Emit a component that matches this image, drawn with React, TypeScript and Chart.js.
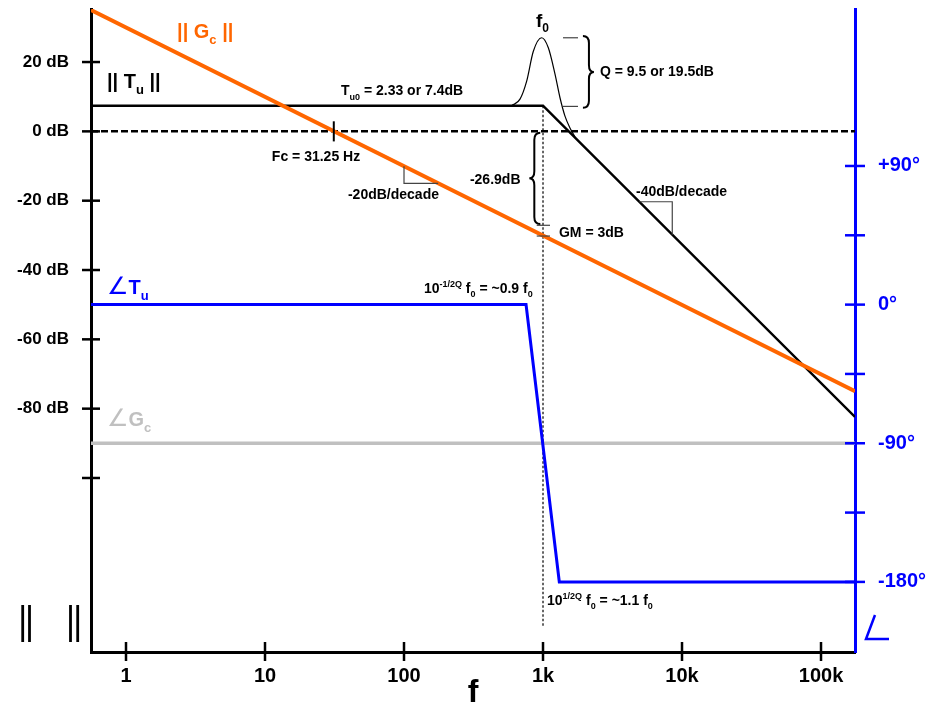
import React, { useEffect, useRef } from 'react';
import { Chart, registerables } from 'chart.js';

Chart.register(...registerables);

const FONT = '"Liberation Sans", Arial, "DejaVu Sans", sans-serif';
const ANGLE_FONT = '"DejaVu Sans", sans-serif';

// Axis ranges
const F_MIN = 0.56;
const F_MAX = 175600;
const DB_MIN = -150.2;
const DB_MAX = 35.3;
const PH_MIN = -225.5;
const PH_MAX = 191.9;

// Ticks
const freqTicks = [1, 10, 100, 1000, 10000, 100000];
const freqTickLabels = ['1', '10', '100', '1k', '10k', '100k'];
const dbTicks = [20, 0, -20, -40, -60, -80, -100];
const dbTickLabels = ['20 dB', '0 dB', '-20 dB', '-40 dB', '-60 dB', '-80 dB', ''];
const phaseTicks = [90, 45, 0, -45, -90, -135, -180];
const phaseTickLabels = ['+90°', '', '0°', '', '-90°', '', '-180°'];

// Series
const tuMagF = [0.56, 1000, 175600];
const tuMagDb = [7.4, 7.4, -82.4];
const tuPeakF = [595, 683, 763, 852, 979, 1092, 1220, 1325, 1439, 1563, 1700];
const tuPeakDb = [7.4, 9.3, 14.5, 23.1, 27.0, 24.1, 16.5, 9.7, 4.4, 1.0, -1.6];
const gcMagF = [0.56, 175600];
const gcMagDb = [35.0, -75.0];
const tuPhaseF = [0.56, 755, 1310, 175600];
const tuPhaseDeg = [0, 0, -180, -180];
const gcPhaseF = [0.56, 175600];
const gcPhaseDeg = [-90, -90];

// Annotation values
const F0 = 1000;
const FC = 31.25;
const TU0_DB = 7.4;
const DOTTED_BOTTOM_DB = -142.6;
const slope20F = [100, 176];
const slope20Db = [-10.1, -15.0];
const slope40F = [4930, 8510];
const slope40Db = [-20.3, -29.8];
const qLineF = [1393, 1785];
const qLineDb = [27.0, 7.2];
const qBraceF = 2140;
const qBraceDb = [27.5, 6.8];
const gmLineF = [901, 1123];
const gmLineDb = [-27.1, -30.2];
const gmBraceF = 866;
const gmBraceDb = [-0.4, -26.7];

type Part = { t: string; sub?: boolean; sup?: boolean; font?: string; size?: number };
type Label = { f: number; db: number; parts: Part[]; size: number; color: string };

const labels: Label[] = [
  { f: 2.33, db: 26.9, size: 20, color: '#ff6600', parts: [{ t: '|| G' }, { t: 'c', sub: true }, { t: ' ||' }] },
  { f: 0.73, db: 12.5, size: 20, color: '#000', parts: [{ t: '|| T' }, { t: 'u', sub: true }, { t: ' ||' }] },
  { f: 35.2, db: 10.4, size: 14, color: '#000', parts: [{ t: 'T' }, { t: 'u0', sub: true }, { t: ' = 2.33 or 7.4dB' }] },
  { f: 891, db: 30.2, size: 19, color: '#000', parts: [{ t: 'f' }, { t: '0', sub: true }] },
  { f: 2570, db: 16.0, size: 14, color: '#000', parts: [{ t: 'Q = 9.5 or 19.5dB' }] },
  { f: 11.2, db: -8.5, size: 14, color: '#000', parts: [{ t: 'Fc = 31.25 Hz' }] },
  { f: 39.5, db: -19.5, size: 14, color: '#000', parts: [{ t: '-20dB/decade' }] },
  { f: 298, db: -15.1, size: 14, color: '#000', parts: [{ t: '-26.9dB' }] },
  { f: 1303, db: -30.5, size: 14, color: '#000', parts: [{ t: 'GM = 3dB' }] },
  { f: 4670, db: -18.6, size: 14, color: '#000', parts: [{ t: '-40dB/decade' }] },
  { f: 0.73, db: -46.8, size: 20, color: '#0000ff', parts: [{ t: '∠', font: ANGLE_FONT, size: 24 }, { t: 'T' }, { t: 'u', sub: true }] },
  { f: 0.73, db: -84.9, size: 20, color: '#c0c0c0', parts: [{ t: '∠', font: ANGLE_FONT, size: 24 }, { t: 'G' }, { t: 'c', sub: true }] },
  { f: 139, db: -46.5, size: 14, color: '#000', parts: [{ t: '10' }, { t: '-1/2Q', sup: true }, { t: ' f' }, { t: '0', sub: true }, { t: ' = ~0.9 f' }, { t: '0', sub: true }] },
  { f: 1069, db: -136.5, size: 14, color: '#000', parts: [{ t: '10' }, { t: '1/2Q', sup: true }, { t: ' f' }, { t: '0', sub: true }, { t: ' = ~1.1 f' }, { t: '0', sub: true }] },
];

const pts = (xs: number[], ys: number[]) => xs.map((x, i) => ({ x, y: ys[i] }));

function drawRich(ctx: CanvasRenderingContext2D, x: number, y: number, parts: Part[], size: number, color: string) {
  let cx = x;
  ctx.fillStyle = color;
  ctx.textAlign = 'left';
  ctx.textBaseline = 'alphabetic';
  for (const p of parts) {
    const small = p.sub || p.sup;
    const s = p.size ? p.size : small ? Math.round(size * 0.64) : size;
    ctx.font = p.font ? `${s}px ${p.font}` : `bold ${s}px ${FONT}`;
    const dy = p.sub ? size * 0.3 : p.sup ? -size * 0.42 : 0;
    ctx.fillText(p.t, cx, y + dy);
    cx += ctx.measureText(p.t).width;
  }
}

function brace(ctx: CanvasRenderingContext2D, x: number, y1: number, y2: number, d: number) {
  const ym = (y1 + y2) / 2;
  const e = 6 * d;
  const t = 5 * d;
  const r = 7;
  ctx.beginPath();
  ctx.moveTo(x - e, y1);
  ctx.quadraticCurveTo(x, y1, x, y1 + r);
  ctx.lineTo(x, ym - r);
  ctx.quadraticCurveTo(x, ym, x + t, ym);
  ctx.quadraticCurveTo(x, ym, x, ym + r);
  ctx.lineTo(x, y2 - r);
  ctx.quadraticCurveTo(x, y2, x - e, y2);
  ctx.stroke();
}

function line(ctx: CanvasRenderingContext2D, x1: number, y1: number, x2: number, y2: number) {
  ctx.beginPath();
  ctx.moveTo(x1, y1);
  ctx.lineTo(x2, y2);
  ctx.stroke();
}

const noPad = (s: any) => {
  s.paddingTop = 0;
  s.paddingBottom = 0;
  s.paddingLeft = 0;
  s.paddingRight = 0;
};

const annotPlugin = {
  id: 'annot',
  beforeDatasetsDraw(chart: any) {
    const { ctx, chartArea: a, scales } = chart;
    const x = scales.x, y = scales.y;
    ctx.save();
    ctx.strokeStyle = '#000';
    ctx.lineWidth = 2.5;
    ctx.setLineDash([7, 3]);
    line(ctx, a.left, y.getPixelForValue(0), a.right, y.getPixelForValue(0));
    ctx.lineWidth = 1.2;
    ctx.setLineDash([2.5, 2]);
    const xf = x.getPixelForValue(F0);
    line(ctx, xf, y.getPixelForValue(TU0_DB), xf, y.getPixelForValue(DOTTED_BOTTOM_DB));
    ctx.restore();
  },
  afterDatasetsDraw(chart: any) {
    const { ctx, chartArea: a, scales } = chart;
    const x = scales.x, y = scales.y, y2 = scales.y2;
    const X = (v: number) => x.getPixelForValue(v);
    const Y = (v: number) => y.getPixelForValue(v);
    ctx.save();
    ctx.setLineDash([]);
    // axis tick crosses
    ctx.strokeStyle = '#000';
    ctx.lineWidth = 2.5;
    for (const v of dbTicks) line(ctx, a.left - 9, Y(v), a.left + 9, Y(v));
    for (const v of freqTicks) line(ctx, X(v), a.bottom - 10, X(v), a.bottom + 9);
    ctx.strokeStyle = '#0000ff';
    for (const v of phaseTicks) line(ctx, a.right - 10, y2.getPixelForValue(v), a.right + 10, y2.getPixelForValue(v));
    // Fc marker
    ctx.strokeStyle = '#000';
    ctx.lineWidth = 2;
    line(ctx, X(FC), Y(2.9), X(FC), Y(-2.9));
    // slope triangles
    ctx.strokeStyle = '#444';
    ctx.lineWidth = 1.2;
    ctx.beginPath();
    ctx.moveTo(X(slope20F[0]), Y(slope20Db[0]));
    ctx.lineTo(X(slope20F[0]), Y(slope20Db[1]));
    ctx.lineTo(X(slope20F[1]), Y(slope20Db[1]));
    ctx.stroke();
    ctx.beginPath();
    ctx.moveTo(X(slope40F[0]), Y(slope40Db[0]));
    ctx.lineTo(X(slope40F[1]), Y(slope40Db[0]));
    ctx.lineTo(X(slope40F[1]), Y(slope40Db[1]));
    ctx.stroke();
    // Q and GM marker lines
    for (const d of qLineDb) line(ctx, X(qLineF[0]), Y(d), X(qLineF[1]), Y(d));
    for (const d of gmLineDb) line(ctx, X(gmLineF[0]), Y(d), X(gmLineF[1]), Y(d));
    // braces
    ctx.strokeStyle = '#000';
    ctx.lineWidth = 2;
    brace(ctx, X(qBraceF), Y(qBraceDb[0]), Y(qBraceDb[1]), 1);
    brace(ctx, X(gmBraceF), Y(gmBraceDb[0]), Y(gmBraceDb[1]), -1);
    // labels
    for (const l of labels) drawRich(ctx, X(l.f), Y(l.db), l.parts, l.size, l.color);
    // magnitude symbol bottom-left
    ctx.strokeStyle = '#000';
    ctx.lineWidth = 2.8;
    for (const bx of [22.7, 29.5, 70.5, 77.7]) line(ctx, bx, a.bottom - 47, bx, a.bottom - 10);
    // angle symbol bottom-right
    ctx.strokeStyle = '#0000ff';
    ctx.lineWidth = 2.5;
    ctx.beginPath();
    ctx.moveTo(a.right + 20, a.bottom - 37);
    ctx.lineTo(a.right + 11, a.bottom - 13);
    ctx.lineTo(a.right + 34, a.bottom - 13);
    ctx.stroke();
    ctx.restore();
  },
};

export default function App() {
  const ref = useRef<HTMLCanvasElement | null>(null);
  useEffect(() => {
    if (!ref.current) return;
    const chart = new Chart(ref.current, {
      type: 'line',
      data: {
        datasets: [
          { data: pts(gcPhaseF, gcPhaseDeg), yAxisID: 'y2', borderColor: '#c0c0c0', borderWidth: 3.5, pointRadius: 0, tension: 0, order: 5 },
          { data: pts(tuPhaseF, tuPhaseDeg), yAxisID: 'y2', borderColor: '#0000ff', borderWidth: 3, pointRadius: 0, tension: 0, order: 4 },
          { data: pts(tuMagF, tuMagDb), yAxisID: 'y', borderColor: '#000', borderWidth: 2.5, pointRadius: 0, tension: 0, order: 3 },
          { data: pts(tuPeakF, tuPeakDb), yAxisID: 'y', borderColor: '#000', borderWidth: 1.2, pointRadius: 0, cubicInterpolationMode: 'monotone', order: 2 },
          { data: pts(gcMagF, gcMagDb), yAxisID: 'y', borderColor: '#ff6600', borderWidth: 4, pointRadius: 0, tension: 0, order: 1 },
        ],
      },
      options: {
        responsive: false,
        animation: false,
        events: [],
        layout: { padding: { top: 9, left: 0, right: 0, bottom: 0 } },
        plugins: { legend: { display: false }, tooltip: { enabled: false } },
        scales: {
          x: {
            type: 'logarithmic',
            min: F_MIN,
            max: F_MAX,
            afterBuildTicks: (s: any) => { s.ticks = freqTicks.map((v) => ({ value: v })); },
            afterFit: (s: any) => { s.height = 57; noPad(s); },
            grid: { display: false, drawTicks: false },
            border: { display: true, color: '#000', width: 3 },
            ticks: {
              autoSkip: false, maxRotation: 0, padding: 12, color: '#000',
              font: { family: FONT, size: 20, weight: 'bold' },
              callback: (_v: any, i: number) => freqTickLabels[i],
            },
            title: { display: true, text: 'f', color: '#000', padding: 0, font: { family: FONT, size: 32, weight: 'bold', lineHeight: 1 } },
          },
          y: {
            type: 'linear',
            position: 'left',
            min: DB_MIN,
            max: DB_MAX,
            afterBuildTicks: (s: any) => { s.ticks = dbTicks.map((v) => ({ value: v })); },
            afterFit: (s: any) => { s.width = 91; noPad(s); },
            grid: { display: false, drawTicks: false },
            border: { display: true, color: '#000', width: 3 },
            ticks: {
              autoSkip: false, padding: 22, color: '#000',
              font: { family: FONT, size: 17, weight: 'bold' },
              callback: (_v: any, i: number) => dbTickLabels[i],
            },
          },
          y2: {
            type: 'linear',
            position: 'right',
            min: PH_MIN,
            max: PH_MAX,
            afterBuildTicks: (s: any) => { s.ticks = phaseTicks.map((v) => ({ value: v })); },
            afterFit: (s: any) => { s.width = 72; noPad(s); },
            grid: { display: false, drawTicks: false },
            border: { display: true, color: '#0000ff', width: 3 },
            ticks: {
              autoSkip: false, padding: 23, color: '#0000ff',
              font: { family: FONT, size: 20, weight: 'bold' },
              callback: (_v: any, i: number) => phaseTickLabels[i],
            },
          },
        },
      } as any,
      plugins: [annotPlugin],
    });
    return () => chart.destroy();
  }, []);
  return (
    <div style={{ position: 'absolute', left: 0, top: 0, width: 927, height: 709 }}>
      <canvas ref={ref} width={927} height={709} style={{ display: 'block' }} />
    </div>
  );
}
